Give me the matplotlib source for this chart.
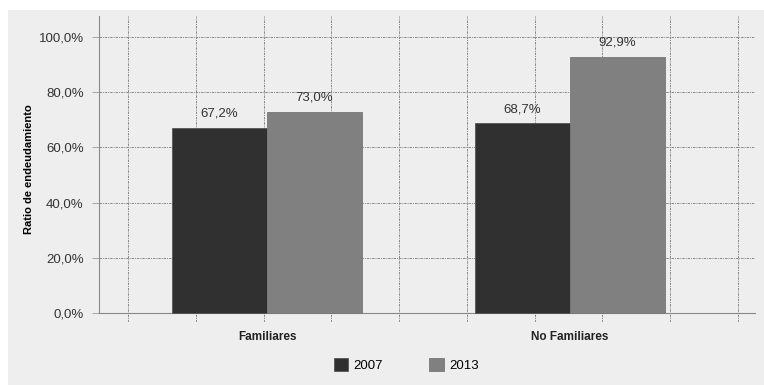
import numpy as np
import matplotlib.pyplot as plt
from matplotlib.patches import Rectangle

categorias = ["Familiares", "No Familiares"]
anios = ["2007", "2013"]
ratio_2007 = [67.2, 68.7]
ratio_2013 = [73.0, 92.9]
yticks = [0, 20, 40, 60, 80, 100]

plt.rcParams['font.family'] = ['Liberation Sans', 'DejaVu Sans']

fig = plt.figure(figsize=(7.64, 3.85), dpi=100)
fig.patch.set_facecolor("white")
# panel gris de fondo
fig.patches.append(Rectangle((8 / 764, 0), 1, 1 - 10 / 385, transform=fig.transFigure,
                             facecolor="#eeeeee", edgecolor="none", zorder=-10))

ax = fig.add_axes([99 / 764, 1 - 322 / 385, (755 - 99) / 764, (322 - 16) / 385])
ax.set_facecolor("none")

# ejes: el eje x va en y=0 (esto reinicia los ticks, así que va primero)
for s in ("top", "right"):
    ax.spines[s].set_visible(False)
ax.spines["bottom"].set_position(("data", 0))
ax.spines["bottom"].set_color("#888888")
ax.spines["left"].set_color("#888888")

x = np.arange(len(categorias))
ancho = 0.3135
b1 = ax.bar(x - ancho / 2, ratio_2007, ancho, color="#303030", edgecolor="#555555",
            linewidth=0.6, label=anios[0], zorder=3)
b2 = ax.bar(x + ancho / 2, ratio_2013, ancho, color="#808080", edgecolor="#777777",
            linewidth=0.6, label=anios[1], zorder=3)

for barras in (b1, b2):
    for r in barras:
        v = r.get_height()
        ax.text(r.get_x() + r.get_width() / 2, v + 3.0, f"{v:.1f}%".replace(".", ","),
                ha="center", va="bottom", fontsize=9.5, color="#333333", zorder=4)

ax.set_xlim(-0.5545, 1.6106)
ax.set_ylim(-3.26, 107.6)
ax.spines["left"].set_bounds(0, 107.6)

# rejilla discontinua
estilo = (0, (2.5, 1, 1, 1))
ax.set_yticks(yticks)
ax.set_yticklabels([f"{t:.1f}%".replace(".", ",") for t in yticks], fontsize=9.5, color="#333333")
ax.set_xticks(-0.4587 + 0.2237 * np.arange(10), minor=True)
ax.set_xticks(x)
ax.set_xticklabels(categorias, fontsize=8.5, fontweight="bold", color="#222222")
ax.tick_params(axis="x", which="both", length=0, pad=13)
ax.tick_params(axis="y", length=5, width=0.6, color="#999999", pad=6)
ax.grid(axis="y", color="#888888", linestyle=estilo, linewidth=0.7)
ax.grid(axis="x", which="minor", color="#888888", linestyle=estilo, linewidth=0.7)
ax.set_axisbelow(True)

ax.set_ylabel("Ratio de endeudamiento", fontsize=8, fontweight="bold", labelpad=3)

fig.legend(loc="center", bbox_to_anchor=(406 / 764, 1 - 365 / 385), ncol=2, frameon=False,
           fontsize=9.5, handlelength=1.1, handleheight=1.1, columnspacing=3.5, handletextpad=0.4)

fig.savefig("out.png", dpi=100)
